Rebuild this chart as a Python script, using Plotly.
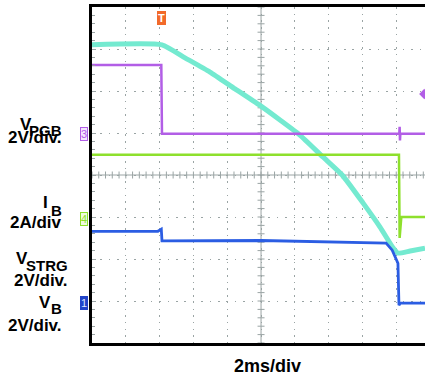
import numpy as np
import plotly.graph_objects as go

# ---- data (in scope divisions) ----
vstrg_x = [0, 2.07, 2.75, 3.49, 4.23, 5.00, 5.56, 6.15, 6.83, 7.40, 8.02, 8.52, 8.91, 9.05, 9.41, 9.85]
vstrg_y = [7.10, 7.10, 6.79, 6.45, 6.05, 5.64, 5.31, 4.95, 4.43, 4.00, 3.33, 2.76, 2.26, 2.14, 2.19, 2.26]

vpgb_x = [0, 2.05, 2.07, 9.09, 9.10, 9.11, 9.12, 9.85]
vpgb_y = [6.62, 6.62, 4.98, 4.98, 5.15, 4.82, 4.98, 4.98]

ib_x = [0, 9.08, 9.10, 9.15, 9.85]
ib_y = [4.48, 4.48, 2.50, 3.00, 3.00]

vb_x = [0, 1.95, 2.05, 2.07, 5.00, 7.00, 8.70, 8.88, 9.05, 9.08, 9.12, 9.85]
vb_y = [2.66, 2.66, 2.71, 2.43, 2.44, 2.41, 2.38, 2.21, 1.90, 0.90, 0.95, 0.95]

trigger_x = 2.07
ch_levels = {"3": 4.98, "4": 2.95, "1": 0.95}

C_CYAN = "#74ead0"
C_PURPLE = "#b25ee6"
C_GREEN = "#8ee02c"
C_BLUE = "#2b5de3"
GRID = "#9aa4a4"

XMAX = 9.85
YMAX = 8

fig = go.Figure()

# centre lines with minor ticks
fig.add_shape(type="line", x0=0, x1=XMAX, y0=4, y1=4, line=dict(color=GRID, width=1), layer="below")
fig.add_shape(type="line", x0=5, x1=5, y0=0, y1=YMAX, line=dict(color=GRID, width=1), layer="below")
tx = np.arange(0, XMAX, 0.2)
ty = np.arange(0, YMAX + 0.01, 0.2)
fig.add_trace(go.Scatter(x=tx, y=[4] * len(tx), mode="markers", hoverinfo="skip",
                         marker=dict(symbol="line-ns", size=5, line=dict(color=GRID, width=1))))
fig.add_trace(go.Scatter(x=[5] * len(ty), y=ty, mode="markers", hoverinfo="skip",
                         marker=dict(symbol="line-ew", size=5, line=dict(color=GRID, width=1))))

# traces
fig.add_trace(go.Scatter(x=vstrg_x, y=vstrg_y, mode="lines",
                         line=dict(color=C_CYAN, width=5, shape="spline", smoothing=0.5)))
fig.add_trace(go.Scatter(x=vpgb_x, y=vpgb_y, mode="lines", line=dict(color=C_PURPLE, width=2.5)))
fig.add_trace(go.Scatter(x=ib_x, y=ib_y, mode="lines", line=dict(color=C_GREEN, width=2.5)))
fig.add_trace(go.Scatter(x=vb_x, y=vb_y, mode="lines", line=dict(color=C_BLUE, width=2.8)))

# purple right-edge marker
fig.add_trace(go.Scatter(x=[XMAX - 0.02], y=[5.93], mode="markers", cliponaxis=False,
                         marker=dict(symbol="diamond", size=8, color=C_PURPLE)))

annotations = []
# channel markers
annotations.append(dict(x=0, y=ch_levels["3"], xref="paper", yref="y", text="3", showarrow=False,
                        xanchor="right", xshift=-4, font=dict(family="Arial", size=11, color=C_PURPLE),
                        bgcolor="#f3e6ff", bordercolor=C_PURPLE, borderwidth=1, borderpad=0))
annotations.append(dict(x=0, y=ch_levels["4"], xref="paper", yref="y", text="4", showarrow=False,
                        xanchor="right", xshift=-4, font=dict(family="Arial", size=11, color=C_GREEN),
                        bgcolor="#eefadf", bordercolor=C_GREEN, borderwidth=1, borderpad=0))
annotations.append(dict(x=0, y=ch_levels["1"], xref="paper", yref="y", text="1", showarrow=False,
                        xanchor="right", xshift=-4, font=dict(family="Arial", size=11, color="#dde6ff"),
                        bgcolor="#2244c8", bordercolor="#2244c8", borderwidth=1, borderpad=0))
# trigger marker
annotations.append(dict(x=trigger_x, y=1, xref="x", yref="paper", text="T", showarrow=False,
                        yanchor="top", yshift=-4,
                        font=dict(family="Arial", size=11, color="white", weight="bold"),
                        bgcolor="#f26a2a", bordercolor="#f26a2a", borderwidth=1, borderpad=0))

# left labels (paper coords from pixels)
def px_x(px):
    return (px - 92) / (425 - 92)

def px_y(py):
    return (343 - py) / (343 - 7)

FAM = "Liberation Sans, Arial"
MAIN = dict(family=FAM, size=17, color="black", weight="bold")
SUBF = dict(family=FAM, size=15, color="black", weight="bold")
labels = [
    # text, right edge px, centre y px, font
    ("V", 34, 124, MAIN), ("PGB", 64, 130, SUBF),
    ("2V/div.", 64, 137, MAIN),
    ("I", 50, 203, MAIN), ("B", 64, 210, SUBF),
    ("2A/div", 64, 223, MAIN),
    ("V", 30, 258, MAIN), ("STRG", 70, 265, SUBF),
    ("2V/div.", 70, 280, MAIN),
    ("V", 53, 302, MAIN), ("B", 64, 308, SUBF),
    ("2V/div.", 64, 325, MAIN),
]
for t, xpx, ypx, f in labels:
    annotations.append(dict(x=px_x(xpx), y=px_y(ypx), xref="paper", yref="paper", text=t,
                            showarrow=False, xanchor="right", yanchor="middle", align="right", font=f))
annotations.append(dict(x=px_x(267), y=px_y(366), xref="paper", yref="paper", text="2ms/div",
                        showarrow=False, xanchor="center", yanchor="middle",
                        font=dict(family=FAM, size=18, color="black", weight="bold")))

fig.update_layout(
    width=425, height=381,
    margin=dict(l=92, r=0, t=7, b=38),
    paper_bgcolor="white", plot_bgcolor="white",
    showlegend=False,
    annotations=annotations,
    xaxis=dict(range=[0, XMAX], dtick=1, tick0=0, showticklabels=False, zeroline=False,
               showgrid=True, gridcolor=GRID, griddash="1.5px,5.2px", gridwidth=1,
               showline=True, linecolor="black", linewidth=3, mirror=True,
               ticks="", fixedrange=True),
    yaxis=dict(range=[0, YMAX], dtick=1, tick0=0, showticklabels=False, zeroline=False,
               showgrid=True, gridcolor=GRID, griddash="1.5px,6.9px", gridwidth=1,
               showline=True, linecolor="black", linewidth=3,
               ticks="inside", ticklen=4, tickcolor=GRID,
               minor=dict(ticks="inside", ticklen=3, dtick=0.2, tickcolor=GRID),
               fixedrange=True),
)

fig.write_html("out.html", config={"displayModeBar": False},
               post_script="document.body.style.margin='0';document.body.style.overflow='hidden';")
